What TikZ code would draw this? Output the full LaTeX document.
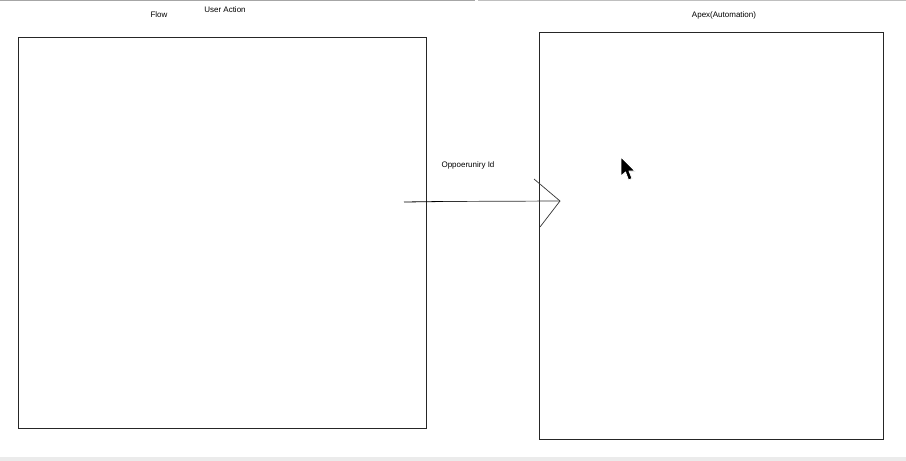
\documentclass[tikz,border=0pt]{standalone}
\usepackage{fontspec}
\setmainfont{Liberation Sans}
\begin{document}
\begin{tikzpicture}[x=1pt,y=-1pt,
  lbl/.style={inner sep=0pt,font=\fontsize{8}{9}\selectfont},
  frame/.style={draw=black!85,line width=0.8pt,inner sep=0pt,anchor=north west},
  conn/.style={draw=black!80,line width=0.7pt}]
\useasboundingbox (0,0) rectangle (906,461);
\fill[white] (0,0) rectangle (906,461);
\draw[black!35,line width=1pt] (0,0.5) -- (475,0.5);
\draw[black!25,line width=1pt] (478,0.5) -- (906,0.5);
\fill[black!8] (0,457) rectangle (906,461);
% boxes
\node[frame,minimum width=408pt,minimum height=391pt] (flow) at (18,37) {};
\node[frame,minimum width=344pt,minimum height=407pt] (apex) at (539,32) {};
% labels
\node[lbl] (tflow) at (159,15) {Flow};
\node[lbl] (tuser) at (225,10) {User Action};
\node[lbl] (tapex) at (724,15) {Apex(Automation)};
\node[lbl] (topp) at (468,165) {Oppoeruniry Id};
% connector
\coordinate (s) at (404,202);
\coordinate (m) at (443,201.5);
\coordinate (tip) at (560,201);
\coordinate (h1) at (534,179);
\coordinate (h2) at (540,227);
\draw[black,line width=0.8pt] (s) -- (m);
\draw[conn] (m) -- (tip);
\draw[conn] (h1) -- (tip) -- (h2);
% mouse cursor
\filldraw[fill=black,draw=white,line width=0.8pt,line join=round]
  (621,157) -- (621,176) -- (625.5,172) -- (628.5,180) -- (632,178.5) -- (629,171) -- (635,171) -- cycle;
\end{tikzpicture}
\end{document}
